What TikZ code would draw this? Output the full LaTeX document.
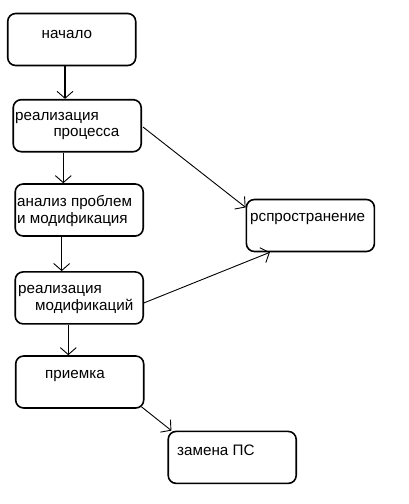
\documentclass[tikz,border=0pt]{standalone}
\usepackage{fontspec}
\setmainfont{Liberation Sans}
\usetikzlibrary{arrows.meta}
\begin{document}
\begin{tikzpicture}[
    x=1pt, y=-1pt,
    box/.style={draw, line width=1.6pt, rounded corners=8pt,
                minimum width=128pt, minimum height=52pt},
    txt/.style={anchor=base west, inner sep=0pt, font=\fontsize{15.2}{18}\selectfont},
    vedge/.style={line width=1.5pt, -{Straight Barb[length=7pt,width=16pt,line width=0.9pt]}},
    dedge/.style={line width=0.9pt, -{Straight Barb[length=7pt,width=16pt,line width=0.9pt]}}
]
\useasboundingbox (0,0) rectangle (409,504);

\node[box] (start)  at (71.7,39.5)  {};
\node[box] (proc)   at (77.2,125.7) {};
\node[box] (anal)   at (79.2,210)   {};
\node[box] (mod)    at (79.2,297.9) {};
\node[box] (accept) at (79.7,382)   {};
\node[box] (repl)   at (232.2,457.4) {};
\node[box] (distr)  at (310.4,225.5) {};

\node[txt] (tstart)  at (41.5,38.5)  {начало};
\node[txt] (tproc1)  at (15,120)     {реализация};
\node[txt] (tproc2)  at (53.3,136.7) {процесса};
\node[txt] (tanal1)  at (17,206.7)   {анализ проблем};
\node[txt] (tanal2)  at (17,223.3)   {и модификация};
\node[txt] (tmod1)   at (18,293.3)   {реализация};
\node[txt] (tmod2)   at (35,310)     {модификаций};
\node[txt] (taccept) at (45,378.3)   {приемка};
\node[txt] (trepl)   at (177,455)    {замена ПС};
\node[txt] (tdistr)  at (250,221.7)  {рспространение};

\draw[vedge] ([xshift=-6.7pt]start.south) coordinate (s1) -- (s1 |- proc.north);
\draw[vedge] ([xshift=-13.9pt]proc.south) coordinate (s2) -- (s2 |- anal.north);
\draw[vedge] ([xshift=-17.5pt]anal.south) coordinate (s3) -- (s3 |- mod.north);
\draw[vedge] ([xshift=-10.9pt]mod.south) coordinate (s4) -- (s4 |- accept.north);
\draw[dedge] ([xshift=-3pt,yshift=2pt]accept.south east) -- ([xshift=4pt]repl.north west);
\draw[dedge] ([xshift=1pt,yshift=-1.3pt]proc.east) -- ([yshift=-8.7pt]distr.north west);
\draw[dedge] ([yshift=-5pt]mod.east) -- ([xshift=24.3pt]distr.south west);

\end{tikzpicture}
\end{document}
